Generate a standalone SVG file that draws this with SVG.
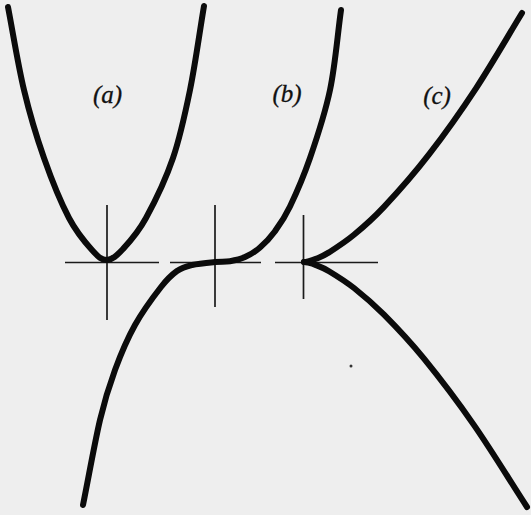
<svg xmlns="http://www.w3.org/2000/svg" width="531" height="515" viewBox="0 0 531 515">
<style>
.curve{fill:none;stroke:#0b0b0b;stroke-width:6;stroke-linecap:round;stroke-linejoin:round}
.axis{fill:none;stroke:#1a1a1a;stroke-width:1.7}
.lbl{font-family:"Liberation Serif","Times New Roman",serif;font-style:italic;font-size:25px;fill:#111;stroke:#111;stroke-width:0.3;text-anchor:middle}
</style>
<rect width="531" height="515" fill="#eeeeee"/>
<g id="axes">
<path class="axis" d="M65,262.5H159M107,205V320"/>
<path class="axis" d="M170,262.5H261M215,205V307"/>
<path class="axis" d="M275,262.5H378M303.5,215V299"/>
</g>
<g id="curve-a">
<path class="curve" d="M8,7 C13.3,34.7 18,64.8 24,90 C30,115.2 36.5,136.7 44,158 C51.5,179.3 61,202.7 69,218 C77,233.3 85.7,243 92,250 C98.3,257 101.8,260.2 107,260 C112.2,259.8 116.5,256 123,249 C129.5,242 137.7,233.2 146,218 C154.3,202.8 165.7,179.3 173,158 C180.3,136.7 184.8,115.3 190,90 C195.2,64.7 199.3,34 204,6"/>
<text class="lbl" x="107.5" y="103">(a)</text>
</g>
<g id="curve-b">
<path class="curve" d="M83,505 C88.7,476.7 94.7,442.5 100,420 C105.3,397.5 109.2,385.8 115,370 C120.8,354.2 127.3,338.8 135,325 C142.7,311.2 154,296 161,287 C168,278 171.8,274.7 177,271 C182.2,267.3 185.7,266.5 192,265 C198.3,263.5 208.7,262.6 215,262 C221.3,261.4 225,262 230,261.2 C235,260.4 240,259.4 245,257.1 C250,254.8 255,251.8 260,247.5 C265,243.2 270,238 275,231.2 C280,224.4 284.2,218.7 290,206.5 C295.8,194.3 303.3,177.4 310,158 C316.7,138.6 324.8,114.7 330,90 C335.2,65.3 337.3,36.7 341,10"/>
<text class="lbl" x="287" y="102">(b)</text>
</g>
<g id="curve-c">
<path class="curve" d="M304,262 C305.5,262 306,261.9 308,261.4 C310,260.9 312.5,260.3 316,258.8 C319.5,257.3 322.7,256.4 329,252.4 C335.3,248.4 344.8,242.4 354,234.8 C363.2,227.2 371.5,220.3 384,206.9 C396.5,193.5 413.7,174.2 429,154.4 C444.3,134.6 460.5,111.9 476,88.3 C491.5,64.7 506.7,38.1 522,13"/>
<path class="curve" d="M304,262 C305.5,262 306,262.1 308,262.6 C310,263.1 312.5,263.7 316,265.1 C319.5,266.5 322.7,267.4 329,271.2 C335.3,275 344.8,280.8 354,288 C363.2,295.3 372.3,302.9 384,314.7 C395.7,326.5 409,340.3 424,358.7 C439,377.1 456.8,400.4 474,425.1 C491.2,449.8 509.3,479.7 527,507"/>
<text class="lbl" x="437" y="104">(c)</text>
</g>
<circle cx="351" cy="366" r="1.5" fill="#333"/>
</svg>
